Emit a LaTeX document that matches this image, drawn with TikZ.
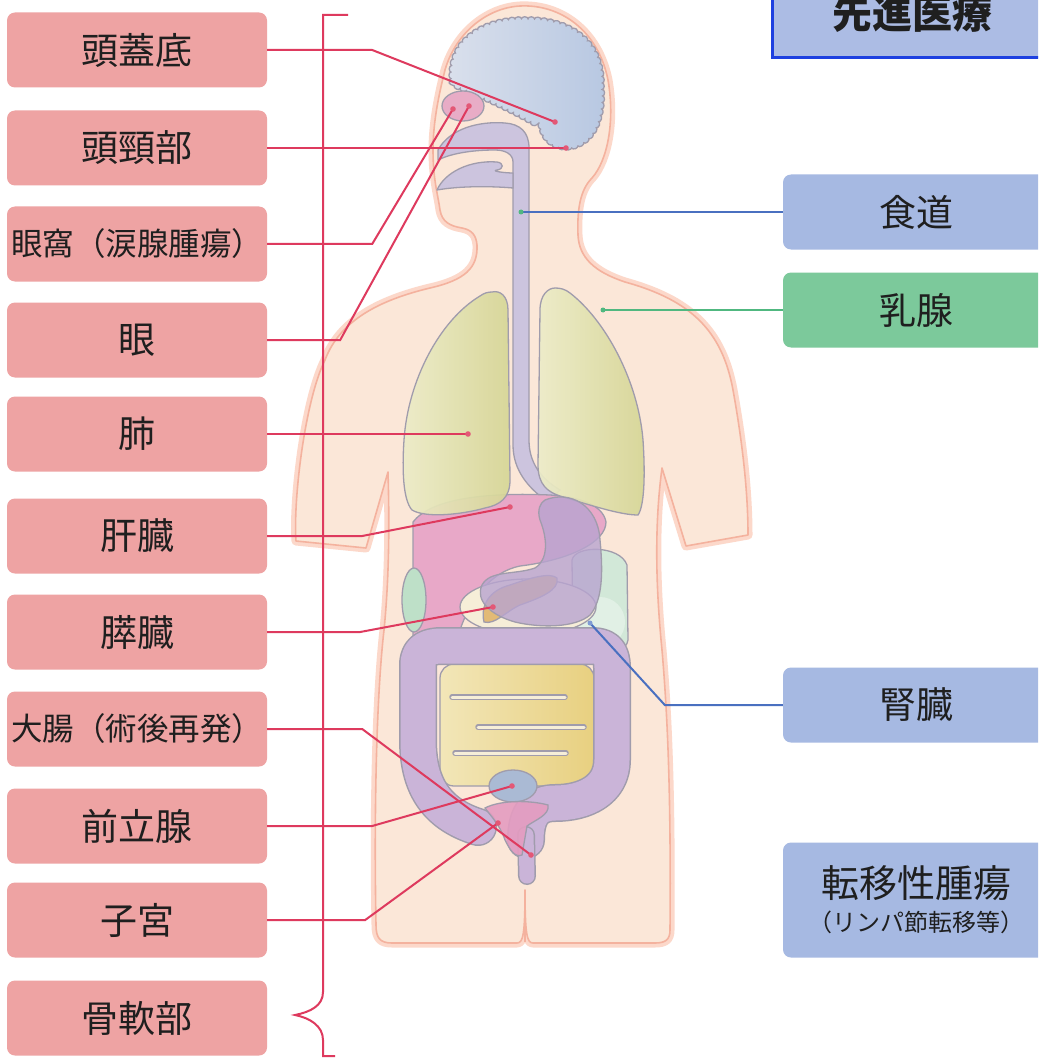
\documentclass[tikz,border=0pt]{standalone}
\usepackage{fontspec}
\setmainfont{Noto Sans CJK JP}
\usetikzlibrary{decorations.pathmorphing}
\definecolor{boxpink}{RGB}{238,163,163}
\definecolor{boxblue}{RGB}{166,185,226}
\definecolor{titlefill}{RGB}{172,188,228}
\definecolor{titleline}{RGB}{30,64,224}
\definecolor{boxgreen}{RGB}{124,201,155}
\definecolor{leadred}{RGB}{222,58,94}
\definecolor{leadblue}{RGB}{74,112,192}
\definecolor{leadgreen}{RGB}{80,184,128}
\definecolor{skin}{RGB}{251,231,216}
\definecolor{skinline}{RGB}{244,178,158}
\definecolor{skinglow}{RGB}{252,216,202}
\definecolor{organline}{RGB}{160,156,172}
\definecolor{brainL}{RGB}{218,224,236}
\definecolor{brainR}{RGB}{184,200,226}
\definecolor{lungL}{RGB}{236,236,200}
\definecolor{lungR}{RGB}{214,214,150}
\definecolor{liverpink}{RGB}{232,168,200}
\definecolor{tubepurple}{RGB}{204,196,222}
\definecolor{stomachpurple}{RGB}{184,164,208}
\definecolor{colonpurple}{RGB}{202,180,216}
\definecolor{pancorange}{RGB}{226,186,118}
\definecolor{creamy}{RGB}{246,238,216}
\definecolor{intL}{RGB}{242,230,184}
\definecolor{intR}{RGB}{232,208,128}
\definecolor{greenpale}{RGB}{190,224,200}
\definecolor{greenpale2}{RGB}{210,232,216}
\definecolor{bladder}{RGB}{170,186,212}
\definecolor{uterus}{RGB}{228,156,192}
\definecolor{eyepink}{RGB}{232,172,198}
\tikzset{
  lbox/.style={rectangle, rounded corners=8pt, fill=boxpink, minimum width=260pt, minimum height=75pt, inner sep=0pt, text=black!88, font=\fontsize{37}{40}\selectfont},
  lboxlong/.style={lbox, font=\fontsize{31.5}{34}\selectfont},
  rbox/.style={lbox, fill=boxblue, minimum width=266pt},
  gbox/.style={rbox, fill=boxgreen},
  redlead/.style={draw=leadred, line width=2pt},
  bluelead/.style={draw=leadblue, line width=2pt},
  greenlead/.style={draw=leadgreen, line width=2pt},
  organ/.style={draw=organline, line width=1.3pt},
  enddot/.style={fill=leadred!85!white}
}
\def\bodypath{(520,6) .. controls (560,4) and (598,30) .. (608,80) .. controls (615,120) and (608,160) .. (592,178) .. controls (580,190) and (577,210) .. (578,235) .. controls (579,258) and (595,272) .. (625,282) .. controls (690,300) and (722,330) .. (733,390) .. controls (742,440) and (748,490) .. (748,535) -- (686,546) -- (662,468) .. controls (655,520) and (655,580) .. (662,650) .. controls (668,720) and (671,800) .. (670,930) .. controls (670,940) and (665,943) .. (655,943) -- (533,943) .. controls (527,943) and (525,935) .. (525,890) .. controls (525,935) and (523,943) .. (517,943) -- (392,943) .. controls (380,943) and (376,938) .. (376,925) .. controls (374,820) and (376,700) .. (384,630) .. controls (388,590) and (390,540) .. (388,472) -- (366,548) -- (296,541) .. controls (293,500) and (305,400) .. (325,360) .. controls (340,320) and (380,300) .. (430,288) .. controls (465,280) and (478,268) .. (477,245) .. controls (476,235) and (472,230) .. (462,228) .. controls (450,226) and (442,222) .. (440,210) .. controls (438,195) and (433,180) .. (433,150) .. controls (433,120) and (440,90) .. (445,70) .. controls (455,35) and (485,8) .. (520,6) -- cycle}
\def\colonpath{(478,827) .. controls (440,815) and (418,790) .. (418,740) -- (418,665) .. controls (418,650) and (428,646) .. (442,646) -- (592,646) .. controls (606,646) and (612,652) .. (612,668) -- (612,760) .. controls (612,790) and (585,803) .. (555,803) .. controls (535,803) and (526,815) .. (526,840)}
\begin{document}
\begin{tikzpicture}[x=1pt,y=-1pt]
\useasboundingbox (0,0) rectangle (1038,1059);
\clip (0,0) rectangle (1038,1059);
\fill[white] (0,0) rectangle (1038,1059);

% ---------- body ----------
\draw[skinglow, line width=9pt, line join=round] \bodypath;
\fill[skin] \bodypath;
\draw[skinline, line width=1.6pt, line join=round] \bodypath;
\draw[skinline, line width=1.4pt] (525,890) -- (525,942);

% brain
\path[organ, left color=brainL, right color=brainR, decorate, decoration={bumps, segment length=13pt, amplitude=2.2pt}]
  (452,85) .. controls (445,40) and (485,18) .. (525,19) .. controls (575,18) and (603,45) .. (602,85) .. controls (604,112) and (598,140) .. (573,147) .. controls (558,150) and (545,143) .. (541,128) .. controls (520,115) and (490,100) .. (452,85) -- cycle;
% eye
\draw[organ, fill=eyepink] (463,106) ellipse (21pt and 15pt);
% nasal cavity + oesophagus
\draw[organ, fill=tubepurple, line join=round]
  (438,150) .. controls (450,128) and (480,121) .. (505,123) .. controls (520,124) and (529,132) .. (529,148) -- (529,440) .. controls (529,462) and (540,478) .. (560,490) -- (548,502) .. controls (528,488) and (513,470) .. (513,445) -- (513,162) .. controls (513,154) and (505,150) .. (495,150) .. controls (470,150) and (450,154) .. (438,160) -- cycle;
% tongue
\draw[organ, fill=tubepurple, line join=round]
  (437,190) .. controls (445,172) and (470,160) .. (497,162) .. controls (504,163) and (504,169) .. (497,170) .. controls (490,171) and (505,173) .. (513,173) -- (513,188) .. controls (490,186) and (460,186) .. (437,190) -- cycle;

% liver
\draw[organ, fill=liverpink] (413,522) .. controls (430,500) and (480,492) .. (550,495) .. controls (580,497) and (603,505) .. (606,522) .. controls (606,542) and (570,560) .. (520,566) .. controls (490,572) and (470,600) .. (460,630) .. controls (450,646) and (420,650) .. (413,640) -- cycle;
% lungs
\draw[organ, left color=lungL, right color=lungR, fill opacity=0.93]
  (492,292) .. controls (500,290) and (508,296) .. (508,310) -- (510,480) .. controls (510,498) and (500,505) .. (485,508) .. controls (460,515) and (425,518) .. (412,510) .. controls (403,500) and (402,470) .. (404,440) .. controls (408,380) and (440,320) .. (480,296) .. controls (484,293) and (488,292) .. (492,292) -- cycle;
\draw[organ, left color=lungL, right color=lungR, fill opacity=0.93]
  (555,288) .. controls (548,288) and (540,295) .. (540,310) -- (538,465) .. controls (538,485) and (548,492) .. (560,496) .. controls (590,505) and (620,515) .. (638,515) .. controls (645,505) and (645,470) .. (643,440) .. controls (638,380) and (605,320) .. (570,293) .. controls (565,289) and (560,288) .. (555,288) -- cycle;

% green (kidney / spleen) regions
\draw[organ, fill=greenpale] (414,600) ellipse (12pt and 32pt);
\draw[organ, fill=greenpale2] (572,560) .. controls (575,545) and (620,545) .. (627,565) -- (628,640) .. controls (625,660) and (578,660) .. (573,640) -- cycle;
\fill[white, opacity=0.35] (600,622) circle (25pt);

% duodenum / cream area
\draw[organ, fill=creamy] (528,607) ellipse (68pt and 28pt);

% small intestine
\draw[organ, left color=intL, right color=intR, rounded corners=14pt] (440,664) rectangle (594,786);
\foreach \ya/\xa/\xb in {697/452/565, 727/478/584, 753/455/566}{
  \draw[organline, line width=5.5pt, line cap=round] (\xa,\ya) -- (\xb,\ya);
  \draw[creamy, line width=3pt, line cap=round] (\xa,\ya) -- (\xb,\ya);
}

% colon
\draw[organline, line width=38pt, line cap=round, line join=round] \colonpath;
\draw[colonpurple, line width=35pt, line cap=round, line join=round] \colonpath;
\draw[organline, line width=18pt, line cap=round] (526,835) -- (527,876);
\draw[colonpurple, line width=15pt, line cap=round] (526,835) -- (527,876);

% pancreas
\draw[organ, fill=pancorange] (484,622) .. controls (480,605) and (490,590) .. (510,585) .. controls (530,578) and (550,572) .. (557,578) .. controls (560,590) and (540,598) .. (520,605) .. controls (505,612) and (495,625) .. (484,622) -- cycle;
% stomach
\draw[organ, fill=stomachpurple, fill opacity=0.8] (545,500) .. controls (570,490) and (598,505) .. (600,540) .. controls (603,570) and (603,600) .. (590,615) .. controls (575,628) and (540,628) .. (515,622) .. controls (490,615) and (475,600) .. (482,585) .. controls (490,570) and (515,575) .. (535,568) .. controls (548,560) and (548,540) .. (540,520) .. controls (537,510) and (540,503) .. (545,500) -- cycle;

% bladder, uterus
\draw[organ, fill=bladder] (513,786) ellipse (24pt and 16pt);
\draw[organ, fill=uterus, fill opacity=0.9] (485,808) .. controls (500,800) and (530,800) .. (548,805) .. controls (550,815) and (535,820) .. (527,826) -- (522,855) .. controls (515,858) and (510,850) .. (505,840) .. controls (500,825) and (490,815) .. (485,808) -- cycle;

% ---------- boxes ----------
\node[lbox] (b1) at (137,50) {頭蓋底};
\node[lbox] (b2) at (137,148) {頭頸部};
\node[lboxlong] (b3) at (137,244) {眼窩（涙腺腫瘍）};
\node[lbox] (b4) at (137,340) {眼};
\node[lbox, path picture={\fill[boxblue] (0,396) -- (167,396) -- (105,472) -- (0,472) -- cycle;}] (b5) at (137,434) {肺};
\node[lbox, path picture={\fill[boxblue] (0,498) -- (163,498) -- (100,574) -- (0,574) -- cycle;}] (b6) at (137,536) {肝臓};
\node[lbox] (b7) at (137,632) {膵臓};
\node[lboxlong] (b8) at (137,729) {大腸（術後再発）};
\node[lbox] (b9) at (137,826) {前立腺};
\node[lbox] (b10) at (137,920) {子宮};
\node[lbox] (b11) at (137,1018) {骨軟部};

\node[draw=titleline, line width=3pt, fill=titlefill, minimum width=280pt, minimum height=90pt, inner sep=0pt, font=\bfseries\fontsize{40}{44}\selectfont, text=black!88] (title) at (912,13) {先進医療};
\node[rbox] (s1) at (916,212) {食道};
\node[gbox] (s2) at (916,310) {乳腺};
\node[rbox] (s3) at (916,705) {腎臓};
\node[rbox, minimum height=115pt, align=center] (s4) at (916,900) {\fontsize{38}{42}\selectfont 転移性腫瘍\\[-6pt]\fontsize{24}{28}\selectfont （リンパ節転移等）};

% ---------- connectors ----------
\coordinate (e1) at (555,122);
\coordinate (e2) at (566,148);
\coordinate (e3) at (453,109);
\coordinate (e4) at (469,106);
\coordinate (e5) at (468,434);
\coordinate (e6) at (510,507);
\coordinate (e7) at (493,607);
\coordinate (e8) at (531,855);
\coordinate (e9) at (512,786);
\coordinate (e10) at (498,823);
\coordinate (r1) at (521,212);
\coordinate (r2) at (603,310);
\coordinate (r3) at (590,623);

\draw[redlead] (348,15) -- (323,15) -- (323,992) .. controls (323,1006) and (310,1012) .. (295,1015) .. controls (310,1018) and (323,1026) .. (323,1040) -- (323,1056) -- (335,1056);

\draw[redlead] (b1.east) -- ++(105,0) -- (e1);
\draw[redlead] (b2.east) -- (e2);
\draw[redlead] (b3.east) -- ++(105,0) -- (e3);
\draw[redlead] (b4.east) -- ++(73,0) -- (e4);
\draw[redlead] (b5.east) -- (e5);
\draw[redlead] (b6.east) -- ++(95,0) -- (e6);
\draw[redlead] (b7.east) -- ++(93,0) -- (e7);
\draw[redlead] (b8.east) -- ++(95,0) -- (e8);
\draw[redlead] (b9.east) -- ++(105,0) -- (e9);
\draw[redlead] (b10.east) -- ++(98,0) -- (e10);
\foreach \p in {e1,e2,e3,e4,e5,e6,e7,e8,e9,e10}{\fill[enddot] (\p) circle (2.8pt);}

\draw[bluelead] (s1.west) -- (r1);
\draw[greenlead] (s2.west) -- (r2);
\draw[bluelead] (s3.west) -- ++(-118,0) -- (r3);
\fill[leadgreen] (r1) circle (2.5pt);
\fill[leadgreen] (r2) circle (2.5pt);
\fill[leadblue!70!white] (r3) circle (2.5pt);
\end{tikzpicture}
\end{document}
